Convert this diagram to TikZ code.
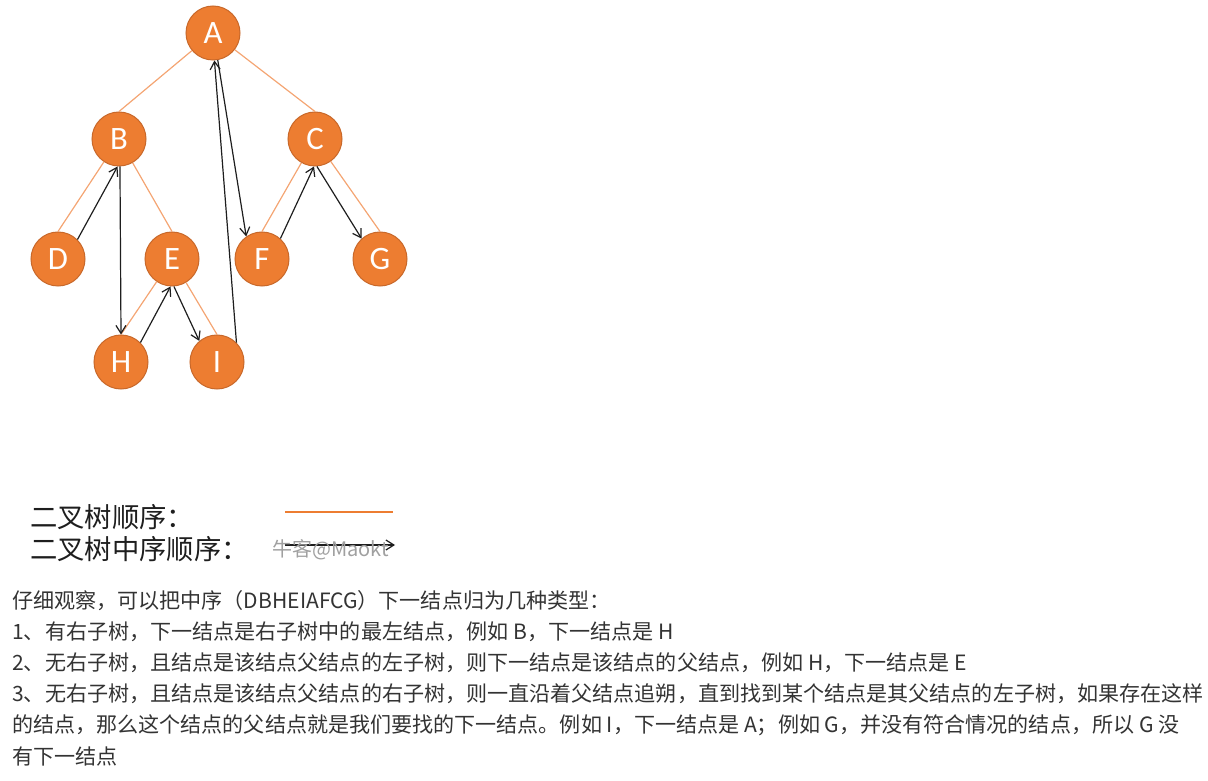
\documentclass[tikz,border=0pt]{standalone}
\usepackage{fontspec}
\setmainfont{Carlito}
\newfontfamily\cjk{Noto Sans CJK SC}
\usepackage{xcolor}
\usepackage{tikz}
\usetikzlibrary{arrows.meta}
\definecolor{nodeorange}{RGB}{237,125,49}
\definecolor{nodeborder}{RGB}{200,104,42}
\definecolor{treeline}{RGB}{244,165,115}
\definecolor{arrowblack}{RGB}{30,30,30}
\definecolor{textgray}{RGB}{51,51,51}
\definecolor{markgray}{RGB}{160,160,160}
\tikzset{
  treenode/.style={circle, fill=nodeorange, draw=nodeborder, line width=0.75pt,
    minimum size=40.5pt, inner sep=0pt, text=white, font=\fontsize{24.5}{24.5}\selectfont},
  treeedge/.style={draw=treeline, line width=0.9pt},
  inorder/.style={draw=arrowblack, line width=0.9pt, -{Straight Barb[length=6pt,width=7.5pt]}},
  legendtext/.style={anchor=west, inner sep=0pt, text=arrowblack, font=\cjk\fontsize{20.5}{20.5}\selectfont},
  bodytext/.style={anchor=west, inner sep=0pt, text=textgray, font=\cjk\fontsize{15.8}{15.8}\selectfont}
}
\begin{document}
\begin{tikzpicture}[x=0.75pt,y=0.75pt,yscale=-1,xscale=1]
\path[use as bounding box] (0,0) rectangle (1208,781);

%Shape: Circle
\node[treenode] (A) at (213,33) {A};
\node[treenode] (B) at (119,139) {B};
\node[treenode] (C) at (315,139) {C};
\node[treenode] (D) at (58,259) {D};
\node[treenode] (E) at (172,259) {E};
\node[treenode] (F) at (262,259) {F};
\node[treenode] (G) at (380,259) {G};
\node[treenode] (H) at (121,362) {H};
\node[treenode] (I) at (217,362) {I};

%Straight Lines: tree
\draw[treeedge] (A) -- (B.north);
\draw[treeedge] (A) -- (C.north);
\draw[treeedge] (B) -- (D.north);
\draw[treeedge] (B) -- (E.north);
\draw[treeedge] (C) -- (F.north);
\draw[treeedge] (C) -- (G.north);
\draw[treeedge] (E) -- (H.north);
\draw[treeedge] (E) -- (I.north);

%Straight Lines: in-order walk
\draw[inorder] (D.45) -- (B.-93);
\draw[inorder] (B.-88) -- (H.90);
\draw[inorder] (H.45) -- (E.-93);
\draw[inorder] (E.-86) -- (I.130);
\draw[inorder] (I.45) -- (A.-87);
\draw[inorder] (A.-80) -- (F.125);
\draw[inorder] (F.48) -- (C.-92);
\draw[inorder] (C.-86) -- (G.132);

% Text Node: legend
\node[legendtext] (lgtree) at (30,517) {二叉树顺序：};
\node[legendtext] (lgin) at (30,549) {二叉树中序顺序：};
\coordinate (lgtreeA) at (285,512);
\coordinate (lgtreeB) at (393,512);
\coordinate (lginA) at (285,545);
\coordinate (lginB) at (395,545);
\draw[draw=nodeorange, line width=2.2pt] (lgtreeA) -- (lgtreeB);
\draw[inorder] (lginA) -- (lginB);
\node[anchor=west, inner sep=0pt, text=markgray, font=\cjk\fontsize{15}{15}\selectfont] (mark) at (272,550) {牛客@Maokt};

% Text Node: notes
\node[bodytext] (t1) at (12,601) {仔细观察，可以把中序（DBHEIAFCG）下一结点归为几种类型：};
\node[bodytext] (t2) at (12,632) {1、有右子树，下一结点是右子树中的最左结点，例如 B，下一结点是 H};
\node[bodytext] (t3) at (12,663) {2、无右子树，且结点是该结点父结点的左子树，则下一结点是该结点的父结点，例如 H，下一结点是 E};
\node[bodytext] (t4) at (12,694) {3、无右子树，且结点是该结点父结点的右子树，则一直沿着父结点追朔，直到找到某个结点是其父结点的左子树，如果存在这样};
\node[bodytext] (t5) at (12,725) {的结点，那么这个结点的父结点就是我们要找的下一结点。例如 I，下一结点是 A；例如 G，并没有符合情况的结点，所以 G 没};
\node[bodytext] (t6) at (12,756) {有下一结点};

\end{tikzpicture}
\end{document}
